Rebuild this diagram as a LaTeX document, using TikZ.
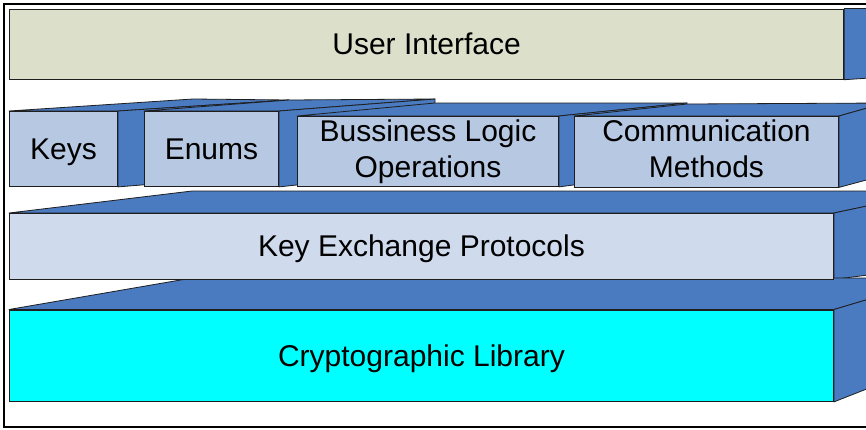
\documentclass[tikz,border=0pt]{standalone}
\usepackage{fontspec}
\setmainfont{Liberation Sans}
\pgfdeclarelayer{faces}
\pgfsetlayers{faces,main}
\definecolor{facecol}{HTML}{4A7AC0}
\definecolor{uicol}{HTML}{DCE0CB}
\definecolor{modcol}{HTML}{B7C8E3}
\definecolor{kepcol}{HTML}{CFDAEC}
\definecolor{cryptocol}{HTML}{00FFFF}
\definecolor{edgecol}{HTML}{1E1E1E}
\begin{document}
\begin{tikzpicture}[x=1pt,y=-1pt,
  face/.style={fill=facecol, draw=edgecol, line width=0.8pt, line join=round},
  front/.style={draw=edgecol, line width=0.9pt, inner sep=0pt,
    font=\fontsize{30}{36.3}\selectfont, align=center, anchor=north west},
  oneline/.style={text height=21.5pt, text depth=0pt},
]
\useasboundingbox (0,0) rectangle (866,429);
\clip (0,0) rectangle (866,429);

% outer frame (open to the right)
\draw[line width=2pt] (910,4) -- (4,4) -- (4,427) -- (910,427);

% front faces of all blocks
\node[front, oneline, fill=uicol, line width=1.2pt, minimum width=834pt, minimum height=70pt] (ui) at (9,8.5) {User Interface};
\node[front, oneline, fill=modcol, minimum width=108pt, minimum height=75pt] (keys) at (9,111) {Keys};
\node[front, oneline, fill=modcol, minimum width=134pt, minimum height=75pt] (enums) at (144,111) {Enums};
\node[front, fill=modcol, minimum width=261pt, minimum height=70pt] (biz) at (297,116) {Bussiness Logic\\Operations};
\node[front, fill=modcol, minimum width=264pt, minimum height=70.5pt] (comm) at (574,116) {Communication\\Methods\vphantom{p}};
\node[front, oneline, fill=kepcol, minimum width=824pt, minimum height=65.5pt] (kep) at (9,213) {Key Exchange Protocols};
\node[front, oneline, fill=cryptocol, minimum width=824pt, minimum height=91.5pt] (crypto) at (9,309.5) {Cryptographic Library};

% back corners of the blocks
\coordinate (kbtl) at (193,99);  \coordinate (kbtr) at (289,100); \coordinate (kbbr) at (289,173);
\coordinate (ebtl) at (289,100); \coordinate (ebtr) at (435,99);  \coordinate (ebbr) at (435,170);
\coordinate (bbtl) at (435,103); \coordinate (bbtr) at (687,103); \coordinate (bbbr) at (687,170);
\coordinate (cbtl) at (687,104); \coordinate (cbtr) at (885,103); \coordinate (cbbr) at (885,175);
\coordinate (xbtl) at (192,191); \coordinate (xbtr) at (938,191); \coordinate (xbbr) at (938,266);
\coordinate (ybtl) at (192,278); \coordinate (ybtr) at (940,278); \coordinate (ybbr) at (940,360);
\coordinate (ubtr) at (900,8.5); \coordinate (ubbr) at (900,76);

% top and side faces, behind the fronts
\begin{pgfonlayer}{faces}
\fill[white] (0,0) rectangle (866,429);
\draw[face] (ui.north east) -- (ui.south east) -- (ubbr) -- (ubtr) -- cycle;
\foreach \n/\p in {keys/k, enums/e, biz/b, comm/c, kep/x, crypto/y}{
  \draw[face] (\n.north west) -- (\n.north east) -- (\p btr) -- (\p btl) -- cycle;
  \draw[face] (\n.north east) -- (\n.south east) -- (\p bbr) -- (\p btr) -- cycle;
}
\end{pgfonlayer}
\end{tikzpicture}
\end{document}
